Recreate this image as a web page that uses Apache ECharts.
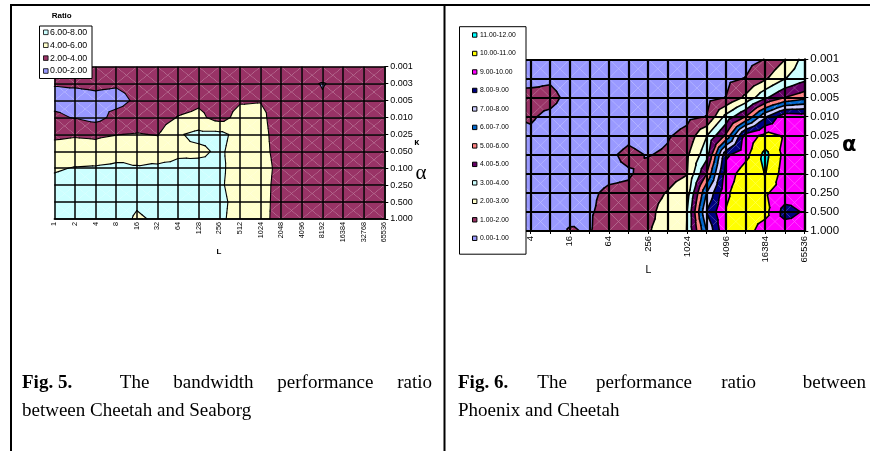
<!DOCTYPE html>
<html>
<head>
<meta charset="utf-8">
<script src="https://cdn.jsdelivr.net/npm/echarts@6/dist/echarts.min.js"></script>
<style>
  html, body { margin: 0; padding: 0; background: #fff; }
  #chart { width: 870px; height: 451px; }
</style>
</head>
<body>
<div id="chart"></div>
<script>
// Message length L (x) and alpha (y) categories shared by both contour plots
const lengths = ['1','2','4','8','16','32','64','128','256','512','1024','2048','4096','8192','16384','32768','65536'];
const alphas = ['0.001','0.003','0.005','0.010','0.025','0.050','0.100','0.250','0.500','1.000'];

// Fig. 5: bandwidth ratio Cheetah / Seaborg, one row per alpha, one column per L
const ratioCheetahSeaborg = [
  [2.5, 2.6, 2.6, 2.6, 2.6, 2.7, 2.7, 2.8, 2.8, 2.9, 3.0, 3.0, 3.0, 3.5, 3.0, 3.0, 3.0],
  [2.1, 2.2, 2.3, 2.2, 2.5, 2.6, 2.7, 2.8, 2.9, 3.2, 3.4, 3.1, 2.5, 1.9, 2.5, 3.0, 3.0],
  [1.5, 1.4, 1.6, 1.4, 2.3, 2.6, 3.0, 3.6, 3.0, 3.8, 3.9, 3.0, 3.0, 2.2, 2.9, 3.0, 3.0],
  [2.3, 1.9, 1.3, 2.6, 2.9, 3.0, 4.1, 4.5, 3.2, 4.7, 4.6, 2.6, 3.0, 3.0, 3.0, 3.0, 3.0],
  [3.6, 3.8, 3.7, 3.95, 4.1, 3.9, 5.8, 6.5, 6.5, 5.4, 4.8, 2.8, 3.0, 3.0, 3.0, 3.0, 3.0],
  [4.8, 4.9, 4.7, 5.2, 5.5, 5.1, 5.7, 5.6, 6.3, 5.2, 5.0, 2.8, 3.0, 3.0, 3.0, 3.0, 3.0],
  [5.8, 6.1, 6.2, 6.4, 6.1, 6.3, 6.4, 6.6, 6.4, 5.1, 5.5, 2.9, 3.0, 3.0, 3.0, 3.0, 3.0],
  [6.5, 6.8, 6.9, 6.9, 6.8, 6.9, 7.0, 7.0, 6.3, 5.1, 5.2, 2.8, 3.0, 3.0, 3.0, 3.0, 3.0],
  [7.0, 7.1, 7.1, 7.1, 6.3, 6.9, 7.0, 7.0, 6.5, 5.3, 5.0, 2.9, 3.0, 3.0, 3.0, 3.0, 3.0],
  [7.0, 7.0, 7.0, 7.0, 5.7, 6.3, 6.9, 6.9, 6.4, 5.2, 4.9, 2.9, 3.0, 3.0, 3.0, 3.0, 3.0]
];
const levelsFig5 = [0, 2, 4, 6, 8];
const legendFig5 = ['0.00-2.00', '2.00-4.00', '4.00-6.00', '6.00-8.00'];
const colorsFig5 = ['#9999FF', '#993366', '#FFFFCC', '#CCFFFF'];

// Fig. 6: performance ratio Phoenix / Cheetah
const ratioPhoenixCheetah = [
  [0.5, 0.5, 0.5, 0.4, 0.4, 0.4, 0.3, 0.3, 0.3, 0.2, 0.2, 0.3, 0.5, 0.7, 1.02, 1.97, 3.4],
  [0.6, 0.8, 0.7, 0.85, 0.5, 0.4, 0.4, 0.3, 0.3, 0.2, 0.3, 0.5, 0.8, 1.03, 1.85, 2.95, 3.7],
  [0.7, 1.15, 1.3, 1.3, 0.7, 0.5, 0.4, 0.4, 0.3, 0.3, 0.5, 0.7, 1.02, 2.2, 3.8, 5.0, 5.6],
  [0.6, 1.05, 1.1, 0.8, 0.5, 0.5, 0.4, 0.4, 0.4, 0.5, 0.75, 1.02, 3.3, 5.0, 7.8, 9.7, 9.6],
  [0.5, 0.7, 0.85, 0.6, 0.5, 0.5, 0.5, 0.8, 0.6, 0.9, 1.3, 2.95, 5.2, 9.4, 10.3, 9.9, 9.6],
  [0.5, 0.6, 0.6, 0.6, 0.5, 0.6, 0.85, 1.2, 0.95, 1.15, 1.85, 3.6, 8.8, 9.7, 11.3, 9.7, 9.5],
  [0.5, 0.5, 0.5, 0.5, 0.5, 0.6, 0.8, 0.9, 1.3, 1.7, 1.97, 5.0, 9.5, 10.5, 11.05, 9.5, 9.5],
  [0.5, 0.5, 0.5, 0.5, 0.6, 0.85, 1.15, 1.2, 1.75, 2.04, 2.5, 7.0, 9.85, 10.6, 10.1, 9.6, 9.5],
  [0.5, 0.5, 0.5, 0.6, 0.72, 0.9, 1.3, 1.6, 1.8, 2.3, 3.0, 8.05, 10.05, 10.5, 10.3, 8.6, 9.1],
  [0.5, 0.5, 0.5, 0.6, 1.08, 0.92, 1.6, 1.8, 1.95, 2.25, 3.02, 7.0, 10.05, 10.4, 9.5, 9.6, 9.5]
];
const levelsFig6 = [0, 1, 2, 3, 4, 5, 6, 7, 8, 9, 10, 11, 12];
const legendFig6 = ['0.00-1.00','1.00-2.00','2.00-3.00','3.00-4.00','4.00-5.00','5.00-6.00',
                    '6.00-7.00','7.00-8.00','8.00-9.00','9.00-10.00','10.00-11.00','11.00-12.00'];
const colorsFig6 = ['#9999FF','#993366','#FFFFCC','#CCFFFF','#660066','#FF8080',
                    '#0066CC','#CCCCFF','#000080','#FF00FF','#FFFF00','#00FFFF'];

// Captions (the figure label is followed by a double space)
const captionFig5 = [[{ t: 'Fig. 5.', b: true, gap: 2 }, { t: 'The' }, { t: 'bandwidth' }, { t: 'performance' }, { t: 'ratio' }],
                     'between Cheetah and Seaborg'];
const captionFig6 = [[{ t: 'Fig. 6.', b: true, gap: 1 }, { t: 'The' }, { t: 'performance' }, { t: 'ratio', gap: 1.6 }, { t: 'between' }],
                     'Phoenix and Cheetah'];

// ---------- contour helpers (linear interpolation on 4 triangles per cell) ----------
function clipPoly(poly, level, keepAbove) {
  const out = [];
  for (let k = 0; k < poly.length; k++) {
    const a = poly[k], b = poly[(k + 1) % poly.length];
    const ina = keepAbove ? a[2] >= level : a[2] <= level;
    const inb = keepAbove ? b[2] >= level : b[2] <= level;
    if (ina) out.push(a);
    if (ina !== inb) {
      const t = (level - a[2]) / (b[2] - a[2]);
      out.push([a[0] + t * (b[0] - a[0]), a[1] + t * (b[1] - a[1]), level]);
    }
  }
  return out;
}

function cellTriangles(api, grid) {
  const ci = api.value(0), cj = api.value(1);
  const P = (i, j) => { const p = api.coord([i, j]); return [p[0], p[1], grid[j][i]]; };
  const tl = P(ci, cj), tr = P(ci + 1, cj), br = P(ci + 1, cj + 1), bl = P(ci, cj + 1);
  const c = [(tl[0] + br[0]) / 2, (tl[1] + br[1]) / 2, (tl[2] + tr[2] + br[2] + bl[2]) / 4];
  return [[tl, tr, c], [tr, br, c], [br, bl, c], [bl, tl, c]];
}

function cells(grid) {
  const out = [];
  for (let j = 0; j < grid.length - 1; j++)
    for (let i = 0; i < grid[0].length - 1; i++) out.push([i, j]);
  return out;
}

function fillSeries(idx, grid, levels, colors) {
  return {
    type: 'custom', xAxisIndex: idx, yAxisIndex: idx, silent: true, z: 2,
    data: cells(grid),
    renderItem: function (params, api) {
      const children = [];
      cellTriangles(api, grid).forEach(function (tri) {
        for (let b = 0; b < colors.length; b++) {
          let p = clipPoly(tri, levels[b], true);
          if (p.length < 3) continue;
          p = clipPoly(p, levels[b + 1], false);
          if (p.length < 3) continue;
          children.push({ type: 'polygon', shape: { points: p.map(q => [q[0], q[1]]) },
                          style: { fill: colors[b] } });
        }
      });
      return { type: 'group', children: children };
    }
  };
}

function lineSeries(idx, grid, levels, width) {
  return {
    type: 'custom', xAxisIndex: idx, yAxisIndex: idx, silent: true, z: 3,
    data: cells(grid),
    renderItem: function (params, api) {
      const children = [];
      cellTriangles(api, grid).forEach(function (tri) {
        for (let k = 1; k < levels.length - 1; k++) {
          const L = levels[k], pts = [];
          for (let e = 0; e < 3; e++) {
            const a = tri[e], b = tri[(e + 1) % 3];
            if ((a[2] >= L) !== (b[2] >= L)) {
              const t = (L - a[2]) / (b[2] - a[2]);
              pts.push([a[0] + t * (b[0] - a[0]), a[1] + t * (b[1] - a[1])]);
            }
          }
          if (pts.length === 2) {
            children.push({ type: 'line', shape: { x1: pts[0][0], y1: pts[0][1], x2: pts[1][0], y2: pts[1][1] },
                            style: { stroke: '#000', lineWidth: width, lineCap: 'round' } });
          }
        }
      });
      return { type: 'group', children: children };
    }
  };
}

// ---------- axes ----------
function xAxisFor(idx, opts) {
  return {
    gridIndex: idx, type: 'category', data: lengths, boundaryGap: false, position: 'bottom', z: 5,
    axisLine: { show: true, lineStyle: { color: '#000', width: opts.grid } },
    axisTick: { show: opts.tick > 0, length: opts.tick, interval: 0, lineStyle: { color: '#000', width: 1 } },
    axisLabel: { rotate: 90, interval: opts.interval, fontSize: opts.font, margin: opts.margin,
                 color: '#000', fontFamily: 'Liberation Sans' },
    splitLine: { show: true, interval: 0, lineStyle: { color: '#000', width: opts.grid } }
  };
}
function yAxisFor(idx, opts) {
  return {
    gridIndex: idx, type: 'category', data: alphas, inverse: true, boundaryGap: false, position: 'right', z: 5,
    axisLine: { show: true, lineStyle: { color: '#000', width: opts.grid } },
    axisTick: { show: true, length: 4, interval: 0, lineStyle: { color: '#000', width: 1 } },
    axisLabel: { interval: 0, fontSize: opts.font, margin: 6, color: '#000', fontFamily: 'Liberation Sans' },
    splitLine: { show: true, interval: 0, lineStyle: { color: '#000', width: opts.grid } }
  };
}

// ---------- decorations: frame, legends, axis titles, captions ----------
const Z = 100;
const graphics = [];
function line(x1, y1, x2, y2, w) {
  graphics.push({ type: 'line', z: Z, shape: { x1, y1, x2, y2 }, style: { stroke: '#000', lineWidth: w } });
}
function text(x, y, str, font, align) {
  graphics.push({ type: 'text', z: Z + 1, x: x, y: y,
                  style: { text: str, font: font, fill: '#000', align: align || 'left', verticalAlign: 'middle' } });
}

line(10, 5, 870, 5, 2);
line(11, 5, 11, 451, 2);
line(444.5, 5, 444.5, 451, 2);

// Fig. 5 legend
text(61.7, 16, 'Ratio', 'bold 8px "Liberation Sans"', 'center');
graphics.push({ type: 'rect', z: Z, shape: { x: 39.5, y: 26, width: 52.5, height: 52.5 },
                style: { fill: '#fff', stroke: '#000', lineWidth: 1 } });
for (let k = 0; k < legendFig5.length; k++) {
  const row = legendFig5.length - 1 - k;
  const y = 32.3 + row * 12.9;
  graphics.push({ type: 'rect', z: Z + 1, shape: { x: 43.5, y: y - 2.3, width: 4.6, height: 4.6 },
                  style: { fill: colorsFig5[k], stroke: '#000', lineWidth: 0.8 } });
  text(50, y, legendFig5[k], '8.8px "Liberation Sans"');
}
text(219, 252, 'L', 'bold 8px "Liberation Sans"', 'center');
text(416.7, 143, 'κ', 'bold 9px "Liberation Sans"', 'center');
text(421, 173, 'α', '21px "Liberation Serif"', 'center');

// Fig. 6 legend
graphics.push({ type: 'rect', z: Z, shape: { x: 459.5, y: 26.7, width: 66.5, height: 227.5 },
                style: { fill: '#fff', stroke: '#000', lineWidth: 1 } });
for (let k = 0; k < legendFig6.length; k++) {
  const row = legendFig6.length - 1 - k;
  const y = 35 + row * 18.48;
  graphics.push({ type: 'rect', z: Z + 1, shape: { x: 472.5, y: y - 2.2, width: 4.4, height: 4.4 },
                  style: { fill: colorsFig6[k], stroke: '#000', lineWidth: 1 } });
  text(480, y, legendFig6[k], '6.8px "Liberation Sans"');
}
text(648.3, 270, 'L', '10.5px "Liberation Sans"', 'center');
text(849.3, 146, 'α', 'bold 21px "DejaVu Sans"', 'center');

// Captions: first line justified between the margins, second line left aligned
const CAP = 19;
const measure = document.createElement('canvas').getContext('2d');
function capFont(bold) { return (bold ? 'bold ' : '') + CAP + 'px "Liberation Serif"'; }
function caption(lines, x0, x1, y0, lh) {
  const words = lines[0];
  const widths = words.map(w => { measure.font = capFont(w.b); return measure.measureText(w.t).width; });
  const weights = words.slice(0, -1).map(w => w.gap || 1);
  const unit = (x1 - x0 - widths.reduce((a, b) => a + b, 0)) / weights.reduce((a, b) => a + b, 0);
  let x = x0;
  words.forEach((w, k) => { text(x, y0, w.t, capFont(w.b)); x += widths[k] + unit * (weights[k] || 0); });
  text(x0, y0 + lh, lines[1], capFont(false));
}
caption(captionFig5, 22, 432, 383, 28);
caption(captionFig6, 458, 866, 383, 28);

// ---------- chart ----------
const chart = echarts.init(document.getElementById('chart'), null, { renderer: 'canvas' });
chart.setOption({
  animation: false,
  backgroundColor: '#fff',
  grid: [
    { left: 54.3, top: 66.7, width: 330, height: 152.3, containLabel: false, outerBoundsMode: 'none' },
    { left: 491.6, top: 59.3, width: 312.7, height: 171.7, containLabel: false, outerBoundsMode: 'none' }
  ],
  xAxis: [
    xAxisFor(0, { grid: 1.5, tick: 0, font: 7.3, margin: 3, interval: 0 }),
    xAxisFor(1, { grid: 2.2, tick: 3, font: 9.5, margin: 5, interval: 1 })
  ],
  yAxis: [
    yAxisFor(0, { grid: 1.5, font: 9 }),
    yAxisFor(1, { grid: 2.2, font: 11.5 })
  ],
  series: [
    fillSeries(0, ratioCheetahSeaborg, levelsFig5, colorsFig5),
    lineSeries(0, ratioCheetahSeaborg, levelsFig5, 1.1),
    fillSeries(1, ratioPhoenixCheetah, levelsFig6, colorsFig6),
    lineSeries(1, ratioPhoenixCheetah, levelsFig6, 1.6)
  ],
  graphic: graphics
});
</script>
</body>
</html>
